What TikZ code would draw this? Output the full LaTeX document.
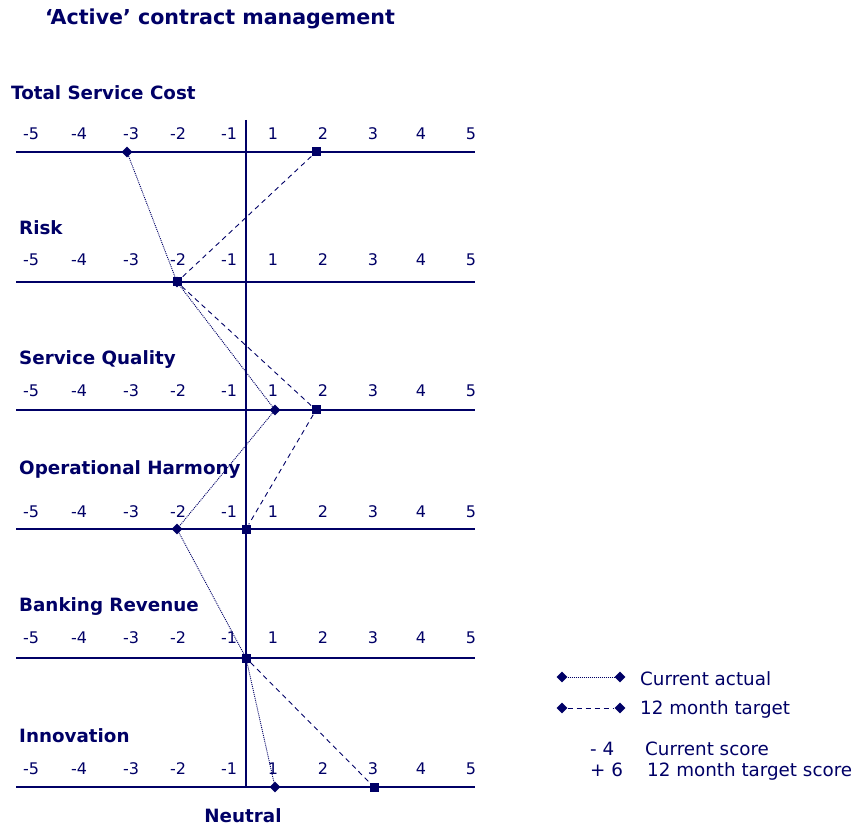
\documentclass[tikz,border=0pt]{standalone}
\usepackage{fontspec}
\setmainfont{DejaVu Sans}
\usetikzlibrary{positioning,shapes.geometric}
\definecolor{navy-color}{RGB}{0,0,102}
\tikzset{
  axis/.style={draw=navy-color, line width=2.8pt},
  tick-label/.style={text=navy-color, anchor=base, font=\fontsize{16}{19}\selectfont},
  cat-label/.style={text=navy-color, anchor=base west, inner sep=0, font=\fontsize{18.3}{21}\selectfont\bfseries},
  legend-text/.style={text=navy-color, anchor=base west, inner sep=0, font=\fontsize{18.3}{21}\selectfont},
  actual/.style={diamond, fill=navy-color, inner sep=0, minimum size=11pt},
  target/.style={rectangle, fill=navy-color, inner sep=0, minimum size=9pt},
  actual-line/.style={draw=navy-color, line width=0.9pt, dash pattern=on 1pt off 1pt},
  target-line/.style={draw=navy-color, line width=0.9pt, dash pattern=on 5pt off 4pt}
}

\begin{document}
\begin{tikzpicture}[x=1pt,y=-1pt]
  \useasboundingbox (0,0) rectangle (855,826);
  \node[cat-label, font=\fontsize{20.6}{24}\selectfont\bfseries] (title) at (45,25) {‘Active’ contract management};
  \foreach \r/\ly/\ty/\cx/\cy/\cat in {1/152/140/11/100/Total Service Cost, 2/282/266/19/235/Risk,
      3/410/397/19/365/Service Quality, 4/529/518/19/475/Operational Harmony,
      5/658/643/19/611/Banking Revenue, 6/787/774/19/742/Innovation} {
    \draw[axis] (16,\ly) coordinate (left\r) -- (475,\ly) coordinate (right\r);
    \node[cat-label] (cat\r) at (\cx,\cy) {\cat};
    \foreach \v/\x in {-5/31,-4/79,-3/131,-2/178,-1/229,1/273,2/323,3/373,4/421,5/471}
      \node[tick-label] (tick\r\v) at (\x,\ty) {\v};
  }
  \draw[axis] (246,120) coordinate (neutral-top) -- (246,787) coordinate (neutral-bottom);
  \node[cat-label, anchor=base] (neutral) at (243,822) {Neutral};
  % scores per row
  \foreach \r/\ly/\ax/\gx in {1/152/127/316, 2/282/177/177, 3/410/275/316,
      4/529/177/246, 5/658/246/246, 6/787/275/374} {
    \node[actual] (act\r) at (\ax,\ly) {};
    \node[target] (tgt\r) at (\gx,\ly) {};
  }
  \draw[actual-line] (act1) -- (act2) -- (act3) -- (act4) -- (act5) -- (act6);
  \draw[target-line] (tgt1) -- (tgt2) -- (tgt3) -- (tgt4) -- (tgt5) -- (tgt6);
  % legend
  \node[actual] (leg-act-a) at (562,677) {};
  \node[actual] (leg-act-b) at (620,677) {};
  \draw[actual-line] (leg-act-a) -- (leg-act-b);
  \node[legend-text] (leg-act) at (640,685) {Current actual};
  \node[actual] (leg-tgt-a) at (562,708) {};
  \node[actual] (leg-tgt-b) at (620,708) {};
  \draw[target-line] (leg-tgt-a) -- (leg-tgt-b);
  \node[legend-text] (leg-tgt) at (640,714) {12 month target};
  \node[legend-text] (score-cur) at (590,755) {- 4};
  \node[legend-text] (score-cur-text) at (645,755) {Current score};
  \node[legend-text] (score-tgt) at (590,776) {+ 6};
  \node[legend-text] (score-tgt-text) at (647,776) {12 month target score};
\end{tikzpicture}
\end{document}
